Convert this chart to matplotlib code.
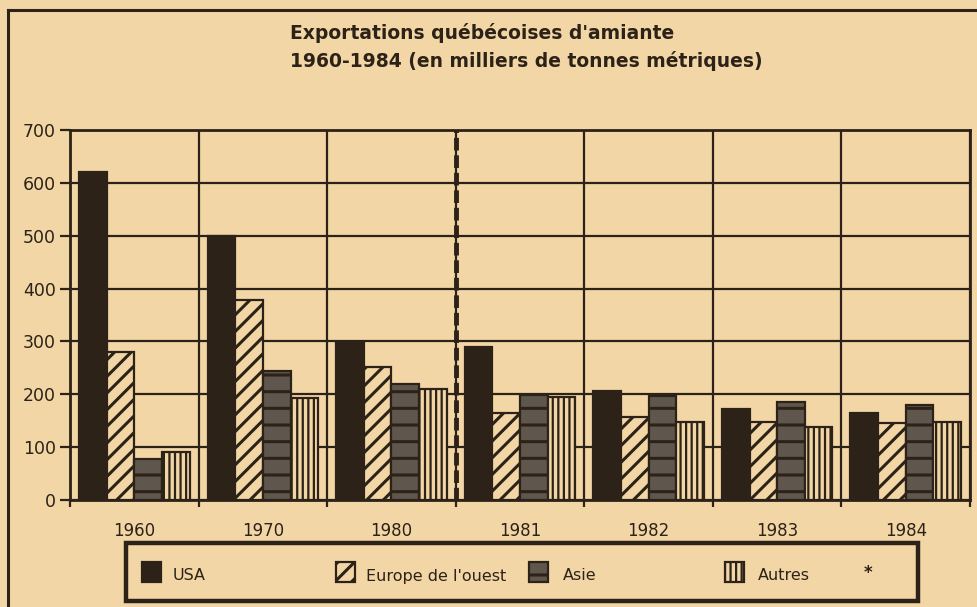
import numpy as np
import matplotlib
matplotlib.use("Agg")
import matplotlib.pyplot as plt
from matplotlib.patches import Rectangle
from matplotlib.lines import Line2D

## ================= DONNÉES =================
annees = ["1960", "1970", "1980", "1981", "1982", "1983", "1984"]
usa = [620, 500, 297, 290, 206, 172, 164]
europe = [280, 378, 252, 165, 157, 148, 145]
asie = [78, 244, 219, 199, 197, 185, 180]
autres = [90, 193, 210, 195, 148, 138, 148]

series = ["USA", "Europe de l'ouest", "Asie", "Autres"]
valeurs = [usa, europe, asie, autres]

## ================= STYLE =================
papier = "#f2d6a6"
encre = "#2c2217"
gris = "#5f574e"

plt.rcParams["font.family"] = ["DejaVu Sans"]
plt.rcParams["hatch.linewidth"] = 2.2
plt.rcParams["hatch.color"] = encre

styles = [
    dict(facecolor=encre, hatch=None, hlw=2.2),
    dict(facecolor=papier, hatch="//", hlw=2.2),
    dict(facecolor=gris, hatch="-", hlw=2.2),
    dict(facecolor=papier, hatch="|||", hlw=1.6),
]

W, H = 978, 607
fig = plt.figure(figsize=(W / 100, H / 100), dpi=100, facecolor=papier)


def fx(px):
    return px / W


def fy(py):
    return 1 - py / H


ax = fig.add_axes([fx(70), fy(500), fx(970) - fx(70), fy(130) - fy(500)])
ax.set_facecolor(papier)

x = np.arange(len(annees))
largeur = 0.215
gauche = -0.43
for k, (nom, vals) in enumerate(zip(series, valeurs)):
    st = styles[k]
    with plt.rc_context({"hatch.linewidth": st["hlw"]}):
        ax.bar(x + gauche + k * largeur, vals, width=largeur, align="edge",
               facecolor=st["facecolor"], hatch=st["hatch"], edgecolor=encre,
               linewidth=1.6, zorder=3)

ax.set_xlim(-0.5, len(annees) - 0.5)
ax.set_ylim(0, 700)
ax.set_yticks(np.arange(0, 701, 100))
ax.set_xticks(x)
ax.set_xticklabels(annees)
ax.set_xticks(np.arange(-0.5, len(annees), 1), minor=True)

ax.grid(True, which="minor", axis="x", color=encre, lw=1.6, zorder=1)
ax.grid(True, which="major", axis="y", color=encre, lw=1.6, zorder=1)
ax.set_axisbelow(True)

ax.tick_params(axis="x", which="major", length=0, pad=16, labelsize=12,
               labelcolor=encre)
ax.tick_params(axis="x", which="minor", length=5, width=1.6, color=encre)
ax.tick_params(axis="y", length=7, width=1.6, color=encre, pad=3,
               labelsize=12.5, labelcolor=encre)
for s in ax.spines.values():
    s.set_color(encre)
    s.set_linewidth(2)

# séparation 1980 / 1981
ax.axvline(2.5, color=encre, lw=3.5, linestyle=(0, (2.6, 1.0)), zorder=4)

## ================= TITRE ET CADRE =================
fig.text(fx(290), fy(33), "Exportations québécoises d'amiante",
         fontsize=13.5, fontweight="bold", color=encre, va="center")
fig.text(fx(290), fy(61), "1960-1984 (en milliers de tonnes métriques)",
         fontsize=13.5, fontweight="bold", color=encre, va="center")

fig.add_artist(Line2D([fx(8), fx(978)], [fy(10), fy(10)], color=encre,
                      lw=2.2, transform=fig.transFigure))
fig.add_artist(Line2D([fx(8), fx(8)], [fy(10), fy(607)], color=encre,
                      lw=2.2, transform=fig.transFigure))

## ================= LÉGENDE =================
fig.add_artist(Rectangle((fx(126), fy(601)), fx(918) - fx(126),
                         fy(543) - fy(601), transform=fig.transFigure,
                         facecolor="none", edgecolor=encre, lw=3.2))
pos_marque = [142, 336, 529, 725]
pos_texte = [173, 366, 563, 758]
for k, nom in enumerate(series):
    st = styles[k]
    with plt.rc_context({"hatch.linewidth": st["hlw"]}):
        fig.add_artist(Rectangle((fx(pos_marque[k]), fy(582)), fx(19),
                                 fy(562) - fy(582), transform=fig.transFigure,
                                 facecolor=st["facecolor"], hatch=st["hatch"],
                                 edgecolor=encre, lw=1.6))
    fig.text(fx(pos_texte[k]), fy(576), nom, fontsize=11.5, color=encre,
             va="center")
fig.text(fx(868), fy(573), "*", fontsize=12, fontweight="bold", color=encre,
         ha="center", va="center")

fig.savefig("out.png", dpi=100, facecolor=papier)
